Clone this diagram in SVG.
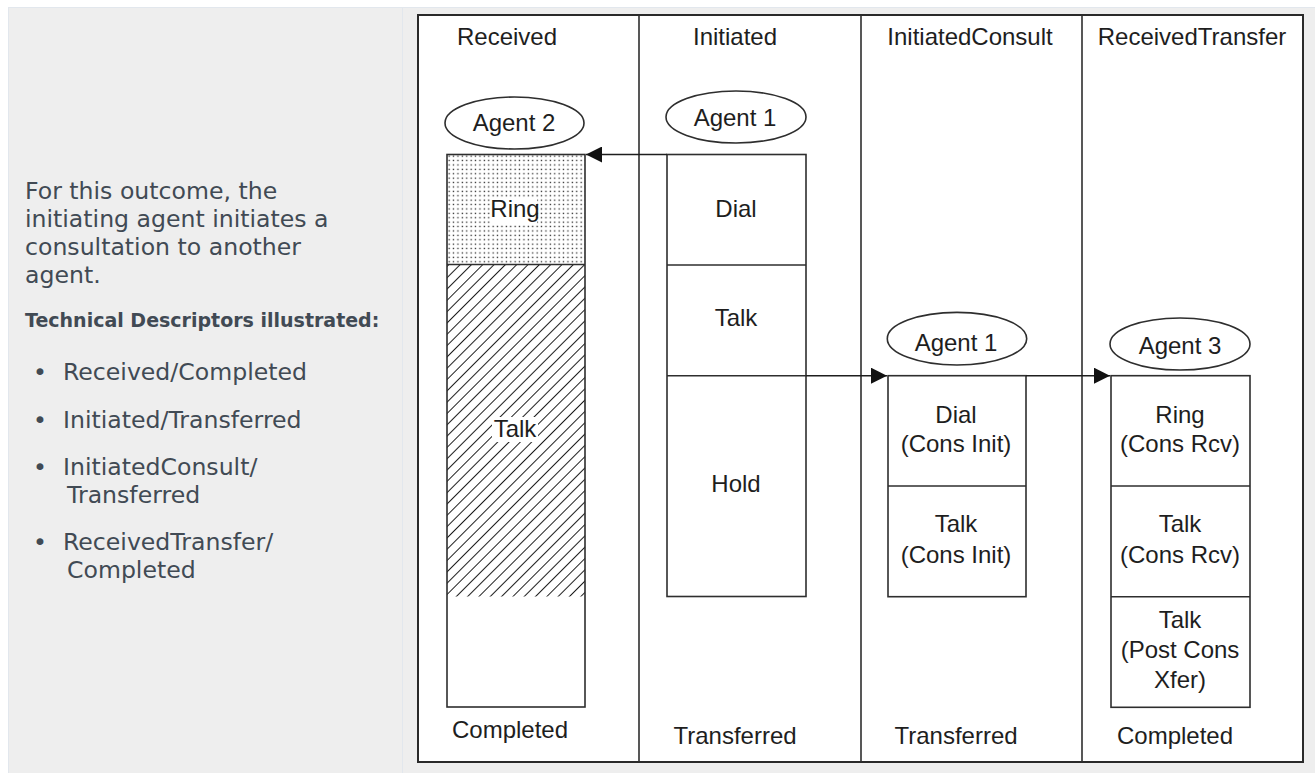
<svg xmlns="http://www.w3.org/2000/svg" width="1315" height="773" viewBox="0 0 1315 773">
<style>
.side{font-family:"DejaVu Sans",sans-serif;font-size:23.6px;fill:#414a54}
.sideb{font-family:"DejaVu Sans",sans-serif;font-size:19px;font-weight:bold;fill:#414a54}
.t{font-family:"Liberation Sans",Arial,sans-serif;font-size:24px;fill:#1e1e1e;text-anchor:middle}
.box{fill:none;stroke:#2e2e2e;stroke-width:1.6}
.ln{stroke:#2e2e2e;stroke-width:1.6;fill:none}
.agent{fill:#fff;stroke:#2e2e2e;stroke-width:1.6}
.frame{fill:#fff;stroke:#2a2a2a;stroke-width:2}
.conn{stroke:#1e1e1e;stroke-width:1.6;fill:none}
</style>
<defs>
<pattern id="dots" patternUnits="userSpaceOnUse" width="4.4" height="4.4" x="447" y="154">
<rect x="1.5" y="1.5" width="1.3" height="1.3" fill="#222"/>
</pattern>
<pattern id="hatch" patternUnits="userSpaceOnUse" width="8" height="8" patternTransform="rotate(45)">
<line x1="0" y1="0" x2="0" y2="8" stroke="#111" stroke-width="1.9"/>
</pattern>
<marker id="ah" viewBox="0 0 16 16" refX="16" refY="8" markerWidth="16" markerHeight="16" markerUnits="userSpaceOnUse" orient="auto">
<path d="M0,0 L16,8 L0,16 Z" fill="#111"/>
</marker>
</defs>

<rect x="8" y="7" width="1307" height="766" fill="#eeeeee"/>
<line x1="8.5" y1="7" x2="8.5" y2="773" stroke="#e2e7ed" stroke-width="1"/>
<line x1="8" y1="7.5" x2="1315" y2="7.5" stroke="#e2e7ed" stroke-width="1"/>
<line x1="402.5" y1="7" x2="402.5" y2="773" stroke="#e2e7ed" stroke-width="1"/>

<g id="description">
<text class="side" x="25" y="199">For this outcome, the</text>
<text class="side" x="25" y="227">initiating agent initiates a</text>
<text class="side" x="25" y="255">consultation to another</text>
<text class="side" x="25" y="283">agent.</text>
<text class="sideb" x="25" y="327">Technical Descriptors illustrated:</text>
<text class="side" x="33" y="380">•</text>
<text class="side" x="63" y="380">Received/Completed</text>
<text class="side" x="33" y="428">•</text>
<text class="side" x="63" y="428">Initiated/Transferred</text>
<text class="side" x="33" y="475">•</text>
<text class="side" x="63" y="475">InitiatedConsult/</text>
<text class="side" x="67" y="503">Transferred</text>
<text class="side" x="33" y="550">•</text>
<text class="side" x="63" y="550">ReceivedTransfer/</text>
<text class="side" x="67" y="578">Completed</text>
</g>

<g id="frame">
<rect class="frame" x="418" y="15" width="885" height="747"/>
<line class="ln" x1="639" y1="15" x2="639" y2="762"/>
<line class="ln" x1="861" y1="15" x2="861" y2="762"/>
<line class="ln" x1="1082" y1="15" x2="1082" y2="762"/>
</g>

<g id="col-received">
<text class="t" x="507" y="45">Received</text>
<text class="t" x="510" y="738">Completed</text>
</g>
<g id="col-initiated">
<text class="t" x="735" y="45">Initiated</text>
<text class="t" x="735" y="744">Transferred</text>
</g>
<g id="col-initiatedconsult">
<text class="t" x="970" y="45">InitiatedConsult</text>
<text class="t" x="956" y="744">Transferred</text>
</g>
<g id="col-receivedtransfer">
<text class="t" x="1192" y="45">ReceivedTransfer</text>
<text class="t" x="1175" y="744">Completed</text>
</g>

<g id="agent2">
<ellipse class="agent" cx="514.5" cy="123" rx="69.5" ry="26"/>
<text class="t" x="514" y="131">Agent 2</text>
</g>
<g id="received-box">
<rect x="447" y="154.5" width="138" height="110" fill="url(#dots)"/>
<rect x="447" y="264.5" width="138" height="332" fill="url(#hatch)"/>
<rect class="box" x="447" y="154.5" width="138" height="552.5"/>
<line class="ln" x1="447" y1="264.5" x2="585" y2="264.5"/>
<rect x="491" y="198" width="46" height="26" fill="#fff"/>
<text class="t" x="515" y="217">Ring</text>
<rect x="492" y="417" width="46" height="25" fill="#fff"/>
<text class="t" x="515" y="437">Talk</text>
</g>

<g id="agent1-initiated">
<ellipse class="agent" cx="736" cy="117" rx="70" ry="26"/>
<text class="t" x="735" y="126">Agent 1</text>
</g>
<g id="initiated-box">
<rect class="box" x="667" y="154.5" width="139" height="442"/>
<line class="ln" x1="667" y1="265" x2="806" y2="265"/>
<line class="ln" x1="667" y1="375.7" x2="806" y2="375.7"/>
<text class="t" x="736" y="217">Dial</text>
<text class="t" x="736" y="326">Talk</text>
<text class="t" x="736" y="492">Hold</text>
</g>

<g id="agent1-consult">
<ellipse class="agent" cx="957" cy="338.7" rx="69.7" ry="26.3"/>
<text class="t" x="956" y="351">Agent 1</text>
</g>
<g id="consult-box">
<rect class="box" x="888" y="375.7" width="138" height="221"/>
<line class="ln" x1="888" y1="486" x2="1026" y2="486"/>
<text class="t" x="956" y="423">Dial</text>
<text class="t" x="956" y="452">(Cons Init)</text>
<text class="t" x="956" y="532">Talk</text>
<text class="t" x="956" y="563">(Cons Init)</text>
</g>

<g id="agent3">
<ellipse class="agent" cx="1180" cy="344" rx="70" ry="26"/>
<text class="t" x="1180" y="354">Agent 3</text>
</g>
<g id="transfer-box">
<rect class="box" x="1111" y="375.7" width="139" height="331.6"/>
<line class="ln" x1="1111" y1="486" x2="1250" y2="486"/>
<line class="ln" x1="1111" y1="596.7" x2="1250" y2="596.7"/>
<text class="t" x="1180" y="423">Ring</text>
<text class="t" x="1180" y="452">(Cons Rcv)</text>
<text class="t" x="1180" y="532">Talk</text>
<text class="t" x="1180" y="563">(Cons Rcv)</text>
<text class="t" x="1180" y="628">Talk</text>
<text class="t" x="1180" y="658">(Post Cons</text>
<text class="t" x="1180" y="688">Xfer)</text>
</g>

<g id="connectors">
<line class="conn" x1="667" y1="154.5" x2="586" y2="154.5" marker-end="url(#ah)"/>
<line class="conn" x1="806" y1="375.7" x2="887" y2="375.7" marker-end="url(#ah)"/>
<line class="conn" x1="1026" y1="375.7" x2="1110" y2="375.7" marker-end="url(#ah)"/>
</g>
</svg>
